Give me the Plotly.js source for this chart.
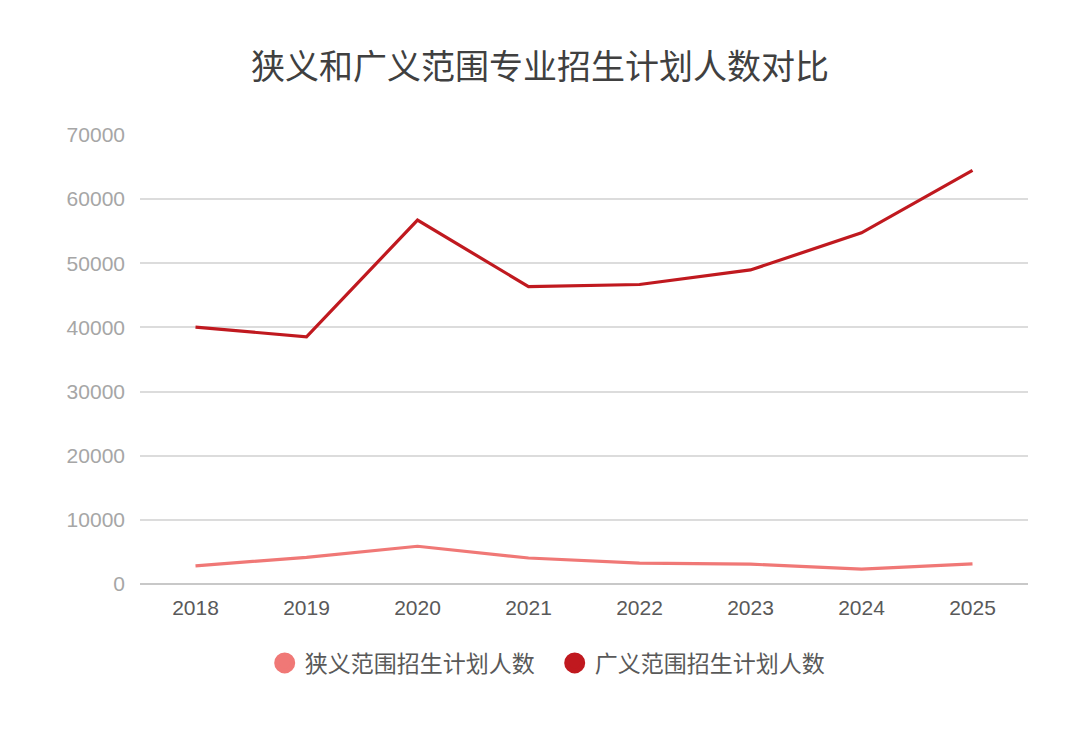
<!DOCTYPE html>
<html>
<head>
<meta charset="utf-8">
<script src="https://cdn.plot.ly/plotly-3.0.1.min.js"></script>
<style>html,body{margin:0;padding:0;background:#fff;}#chart{width:1080px;height:743px;}</style>
</head>
<body>
<div id="chart"></div>
<script>
const years = ['2018','2019','2020','2021','2022','2023','2024','2025'];
const narrowName = '狭义范围招生计划人数';
const broadName = '广义范围招生计划人数';
const narrowValues = [2840, 4150, 5880, 4050, 3260, 3100, 2320, 3150];
const broadValues = [40050, 38530, 56730, 46370, 46690, 48960, 54740, 64470];
const yTicks = [0, 10000, 20000, 30000, 40000, 50000, 60000, 70000];

const narrowColor = '#f07876';
const broadColor = '#c0191f';
const fontFamily = '"Noto Sans CJK SC", "Liberation Sans", Arial, sans-serif';

const traces = [
  {x: years, y: narrowValues, type: 'scatter', mode: 'lines', name: narrowName,
   line: {color: narrowColor, width: 3.2}, showlegend: false, hoverinfo: 'x+y'},
  {x: years, y: broadValues, type: 'scatter', mode: 'lines', name: broadName,
   line: {color: broadColor, width: 3.2}, showlegend: false, hoverinfo: 'x+y'},
  {x: [null], y: [null], type: 'scatter', mode: 'markers', name: narrowName,
   marker: {color: narrowColor, size: 26, symbol: 'circle', line: {color: narrowColor, width: 5}}, showlegend: true},
  {x: [null], y: [null], type: 'scatter', mode: 'markers', name: broadName,
   marker: {color: broadColor, size: 26, symbol: 'circle', line: {color: broadColor, width: 5}}, showlegend: true}
];

const layout = {
  width: 1080, height: 743,
  paper_bgcolor: '#ffffff', plot_bgcolor: '#ffffff',
  margin: {l: 140, r: 52, t: 135, b: 159},
  title: {text: '狭义和广义范围专业招生计划人数对比', x: 0.5, xanchor: 'center', y: 0.91, yanchor: 'middle',
          font: {family: fontFamily, size: 34, color: '#404040'}},
  xaxis: {type: 'category', categoryarray: years, range: [-0.5, 7.5],
          showgrid: false, zeroline: false, showline: false, ticks: '',
          tickfont: {family: '"Liberation Sans", Arial, sans-serif', size: 21, color: '#595959'},
          ticklabelstandoff: 9, automargin: false},
  yaxis: {range: [0, 70000], tickvals: yTicks, ticktext: yTicks.map(String),
          showgrid: true, gridcolor: '#dcdcdc', gridwidth: 1.5,
          zeroline: true, zerolinecolor: '#c8c8c8', zerolinewidth: 2,
          showline: false, ticks: '', automargin: false,
          tickfont: {family: '"Liberation Sans", Arial, sans-serif', size: 21, color: '#a6a6a6'},
          ticklabelstandoff: 14},
  showlegend: true,
  legend: {orientation: 'h', x: 0.467, xanchor: 'center', y: -0.128, yanchor: 'top',
           font: {family: fontFamily, size: 23, color: '#595959'},
           entrywidth: 245, entrywidthmode: 'pixels',
           itemsizing: 'trace', traceorder: 'normal'},
  hovermode: 'closest'
};

Plotly.newPlot('chart', traces, layout, {displayModeBar: false});
</script>
</body>
</html>
